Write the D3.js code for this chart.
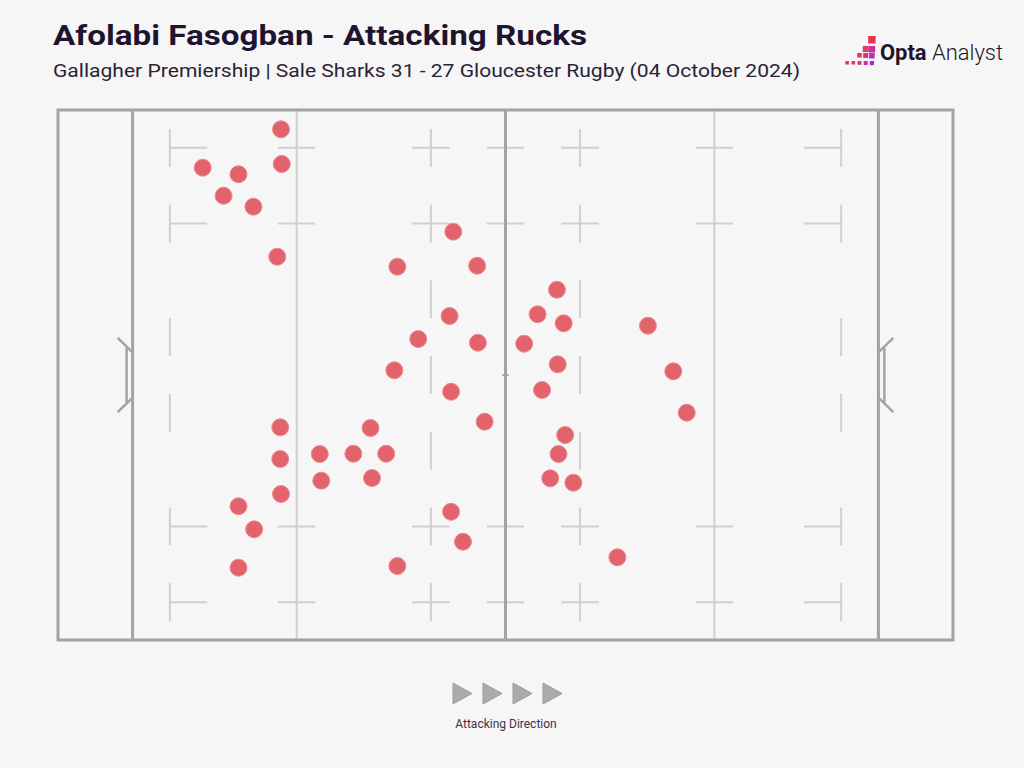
<!DOCTYPE html>
<html>
<head>
<meta charset="utf-8">
<script src="https://cdn.jsdelivr.net/npm/d3@7"></script>
<style>
  html, body { margin: 0; padding: 0; background: #f6f6f6; }
  svg { display: block; }
</style>
</head>
<body>
<div id="chart"></div>
<script>
// ---- Data (pitch metres: x from own try line 0 -> 100, y from top touchline 0 -> 70) ----
const ruckX = [19.9, 20.0, 9.4, 14.2, 12.2, 16.2, 19.4, 43.0, 35.5, 46.2,
               56.9, 54.3, 42.5, 57.8, 69.1, 38.3, 46.3, 52.5, 57.0, 35.1,
               72.5, 42.7, 54.9, 74.3, 47.2, 19.8, 31.9, 58.0, 19.8, 25.1,
               29.6, 34.0, 57.1, 25.3, 32.1, 56.0, 59.1, 19.9, 14.2, 42.7,
               16.3, 44.3, 65.0, 14.2, 35.5];
const ruckY = [2.55, 7.13, 7.62, 8.49, 11.32, 12.77, 19.38, 16.07, 20.70, 20.57,
               23.74, 26.98, 27.21, 28.17, 28.49, 30.25, 30.74, 30.87, 33.59, 34.38,
               34.51, 37.21, 36.98, 39.98, 41.17, 41.91, 42.00, 42.93, 46.10, 45.44,
               45.40, 45.40, 45.44, 48.96, 48.61, 48.65, 49.23, 50.72, 52.34, 53.06,
               55.38, 57.02, 59.08, 60.45, 60.23];

const titleText = "Afolabi Fasogban - Attacking Rucks";
const subtitleText = "Gallagher Premiership | Sale Sharks 31 - 27 Gloucester Rugby (04 October 2024)";
const directionLabel = "Attacking Direction";

// Pitch marking definitions (metres)
const pitchLength = [-10, 110];
const pitchWidth = [0, 70];
const dashCentresX = [22, 40, 50, 60, 78];
const dashRowsY = [5, 15, 55, 65];
const fiveMetreVertY = [5, 15, 30, 40, 55, 65];
const tenMetreVertY = [5, 15, 25, 35, 45, 55, 65];
const directionArrows = [0, 1, 2, 3];

const W = 1024, H = 768;
const svg = d3.select("#chart").append("svg").attr("width", W).attr("height", H);
svg.append("rect").attr("width", W).attr("height", H).attr("fill", "#f6f6f6");

const x = d3.scaleLinear().domain(pitchLength).range([58, 953]);
const y = d3.scaleLinear().domain(pitchWidth).range([110, 640]);

// ---- Title ----
svg.append("text").attr("x", 53).attr("y", 45)
  .attr("font-family", "Roboto, 'Noto Sans', sans-serif").attr("font-weight", 700)
  .attr("font-size", 28).attr("fill", "#1f1430")
  .attr("textLength", 534).attr("lengthAdjust", "spacingAndGlyphs")
  .text(titleText);
svg.append("text").attr("x", 53).attr("y", 77)
  .attr("font-family", "Roboto, 'Noto Sans', sans-serif").attr("font-weight", 400)
  .attr("font-size", 19).attr("fill", "#2b2237")
  .attr("textLength", 747).attr("lengthAdjust", "spacingAndGlyphs")
  .text(subtitleText);

// ---- Logo ----
const logo = svg.append("g");
const logoCells = [
  [4, 0, 7.5, "#e8344f"],
  [3, 1, 6, "#e23a66"], [4, 1, 6.5, "#c93093"],
  [2, 2, 4.5, "#e8344f"], [3, 2, 5, "#d83479"], [4, 2, 5.5, "#b52cc0"],
  [0, 3, 3.5, "#e8344f"], [1, 3, 3.5, "#e0366a"], [2, 3, 3.8, "#d33489"], [3, 3, 4, "#bf2fb0"], [4, 3, 4.2, "#a82bd0"]
];
logo.selectAll("rect").data(logoCells).join("rect")
  .attr("x", d => 844 + d[0] * 6.2 + (6.2 - d[2]) / 2)
  .attr("y", d => [36, 46, 53, 61][d[1]])
  .attr("width", d => d[2]).attr("height", d => d[2])
  .attr("fill", d => d[3]);
const logoText = svg.append("text").attr("x", 880).attr("y", 60)
  .attr("font-family", "Roboto, sans-serif").attr("font-size", 22).attr("fill", "#1f1430")
  .attr("textLength", 123).attr("lengthAdjust", "spacingAndGlyphs");
logoText.append("tspan").attr("font-weight", 700).text("Opta");
logoText.append("tspan").attr("font-weight", 300).text(" Analyst");

// ---- Pitch ----
const pitch = svg.append("g");
const light = pitch.append("g").attr("stroke", "#cfcfcf").attr("stroke-width", 2).attr("fill", "none");
const dark = pitch.append("g").attr("stroke", "#a3a3a3").attr("stroke-width", 3).attr("fill", "none");

// 22m lines
[22, 78].forEach(m => light.append("line")
  .attr("x1", x(m)).attr("x2", x(m)).attr("y1", y(0)).attr("y2", y(70)));

// horizontal dashes on 22m, 10m, halfway
dashCentresX.forEach(cx => dashRowsY.forEach(cy => light.append("line")
  .attr("x1", x(cx - 2.5)).attr("x2", x(cx + 2.5)).attr("y1", y(cy)).attr("y2", y(cy))));
// 5m line T-bars
dashRowsY.forEach(cy => {
  light.append("line").attr("x1", x(5)).attr("x2", x(10)).attr("y1", y(cy)).attr("y2", y(cy));
  light.append("line").attr("x1", x(95)).attr("x2", x(90)).attr("y1", y(cy)).attr("y2", y(cy));
});
// vertical dashes on 5m lines
[5, 95].forEach(m => fiveMetreVertY.forEach(cy => light.append("line")
  .attr("x1", x(m)).attr("x2", x(m)).attr("y1", y(cy - 2.5)).attr("y2", y(cy + 2.5))));
// vertical dashes on 10m lines
[40, 60].forEach(m => tenMetreVertY.forEach(cy => light.append("line")
  .attr("x1", x(m)).attr("x2", x(m)).attr("y1", y(cy - 2.5)).attr("y2", y(cy + 2.5))));

// outer boundary, try lines, halfway
dark.append("rect").attr("x", x(-10)).attr("y", y(0))
  .attr("width", x(110) - x(-10)).attr("height", y(70) - y(0));
[0, 50, 100].forEach(m => dark.append("line")
  .attr("x1", x(m)).attr("x2", x(m)).attr("y1", y(0)).attr("y2", y(70)));
// centre tick
dark.append("line").attr("x1", x(49.6)).attr("x2", x(50.4)).attr("y1", y(35)).attr("y2", y(35)).attr("stroke-width", 2);

// goal posts
[[0, -1], [100, 1]].forEach(([m, s]) => {
  const g = dark.append("g").attr("stroke-width", 2.5);
  g.append("line").attr("x1", x(m + s * 2.0)).attr("y1", y(30.1)).attr("x2", x(m)).attr("y2", y(32.0));
  g.append("line").attr("x1", x(m + s * 2.0)).attr("y1", y(39.9)).attr("x2", x(m)).attr("y2", y(38.0));
  g.append("line").attr("x1", x(m + s * 0.8)).attr("y1", y(31.4)).attr("x2", x(m + s * 0.8)).attr("y2", y(38.6));
});

// ---- Rucks ----
const rucks = ruckX.map((v, i) => ({ x: v, y: ruckY[i] }));
svg.append("g").selectAll("circle").data(rucks).join("circle")
  .attr("cx", d => x(d.x)).attr("cy", d => y(d.y)).attr("r", 8.5)
  .attr("fill", "#e3636c").attr("stroke", "#ec8a91").attr("stroke-width", 1);

// ---- Attacking direction ----
const ax = d3.scaleLinear().domain([0, 3]).range([453, 543]);
svg.append("g").selectAll("path").data(directionArrows).join("path")
  .attr("d", d => {
    const x0 = ax(d), x1 = x0 + 19;
    return `M${x0},683 L${x1},693.5 L${x0},704 Z`;
  })
  .attr("fill", "#ababab").attr("stroke", "#9d9d9d").attr("stroke-width", 1).attr("stroke-linejoin", "round");
svg.append("text").attr("x", 506).attr("y", 728).attr("text-anchor", "middle")
  .attr("font-family", "Roboto, sans-serif").attr("font-size", 12).attr("fill", "#3c3346")
  .text(directionLabel);
</script>
</body>
</html>
